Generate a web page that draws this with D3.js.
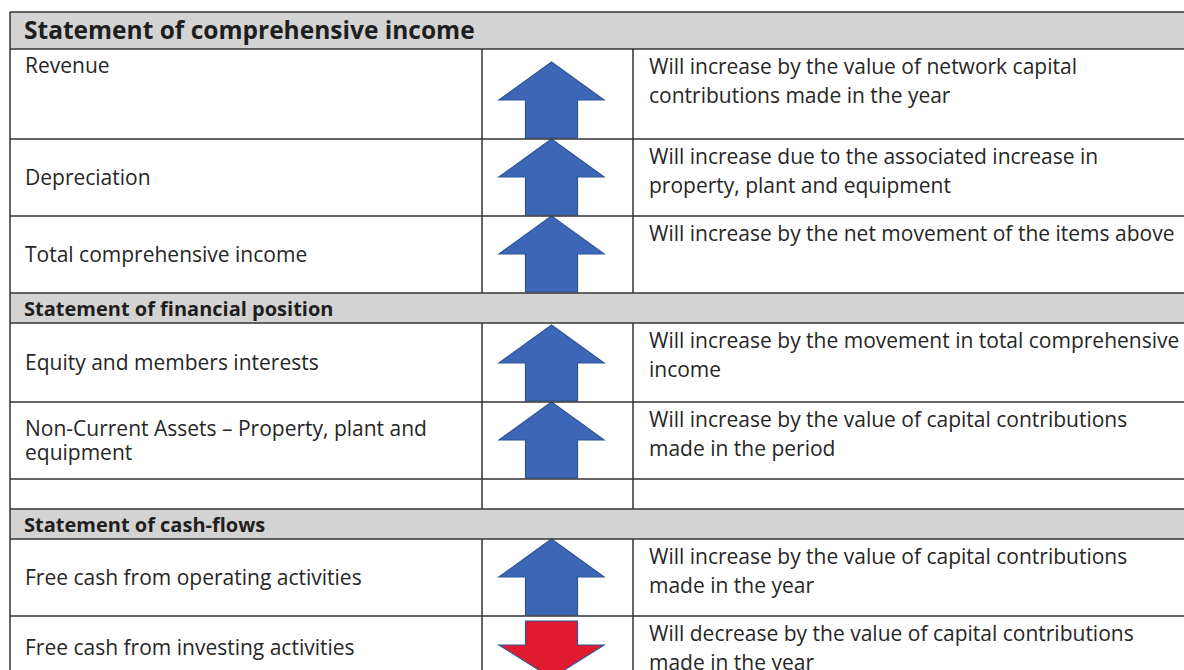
<!DOCTYPE html>
<html>
<head>
<meta charset="utf-8">
<script src="https://cdn.jsdelivr.net/npm/d3@7"></script>
<style>
  html, body { margin: 0; padding: 0; background: #fff; }
  svg { display: block; }
</style>
</head>
<body>
<div id="chart"></div>
<script>
// table content
const sectionTitles = [
  "Statement of comprehensive income",
  "Statement of financial position",
  "Statement of cash-flows"
];
const itemSection = [0, 0, 0, 1, 1, 1, 2, 2];
const itemLabels = [
  "Revenue",
  "Depreciation",
  "Total comprehensive income",
  "Equity and members interests",
  "Non-Current Assets \u2013 Property, plant and\nequipment",
  "",
  "Free cash from operating activities",
  "Free cash from investing activities"
];
const itemMovement = ["up", "up", "up", "up", "up", null, "up", "down"];
const itemNotes = [
  "Will increase by the value of network capital\ncontributions made in the year",
  "Will increase due to the associated increase in\nproperty, plant and equipment",
  "Will increase by the net movement of the items above",
  "Will increase by the movement in total comprehensive\nincome",
  "Will increase by the value of capital contributions\nmade in the period",
  "",
  "Will increase by the value of capital contributions\nmade in the year",
  "Will decrease by the value of capital contributions\nmade in the year"
];

// layout
const width = 1184, height = 670;
const top0 = 12;
const sectionHeights = [37, 30, 30];
const itemHeights = [90, 77, 77, 79, 77, 30, 77, 64];
const labelAlign = ["top", "middle", "middle", "middle", "middle", "middle", "middle", "middle"];

const rows = [];
sectionTitles.forEach((t, s) => {
  rows.push({kind: "section", s, text: t, h: sectionHeights[s]});
  itemLabels.forEach((l, i) => {
    if (itemSection[i] === s) {
      rows.push({kind: "item", i, label: l, note: itemNotes[i], move: itemMovement[i], h: itemHeights[i], align: labelAlign[i]});
    }
  });
});
const tops = [top0, ...d3.cumsum(rows, d => d.h).map(v => v + top0)];
rows.forEach((r, k) => { r.y0 = tops[k]; r.y1 = tops[k + 1]; });

const col = d3.scaleOrdinal()
  .domain(["label", "arrow", "note", "end"])
  .range([10, 482, 633, 1192]);
const fillColor = d3.scaleOrdinal().domain(["up", "down"]).range(["#3d67b6", "#e11a30"]);

const svg = d3.select("#chart").append("svg")
  .attr("width", width).attr("height", height);

const font = "'Open Sans', 'Noto Sans', sans-serif";
const ink = "#262626";
const lineColor = "#333";

// section backgrounds
const sec = rows.filter(r => r.kind === "section");
svg.selectAll("rect.sec").data(sec).enter().append("rect")
  .attr("class", "sec")
  .attr("x", col("label")).attr("width", col("end") - col("label"))
  .attr("y", d => d.y0).attr("height", d => d.y1 - d.y0)
  .attr("fill", "#d3d3d3");

svg.selectAll("text.sec").data(sec).enter().append("text")
  .attr("class", "sec")
  .attr("x", col("label") + 14)
  .attr("y", d => d.s === 0 ? d.y0 + 27 : d.y0 + 23)
  .attr("font-family", font)
  .attr("font-weight", 700)
  .attr("font-size", d => d.s === 0 ? 24.5 : 20)
  .attr("fill", "#1e1e1e")
  .text(d => d.text);

// arrows
const items = rows.filter(r => r.kind === "item");
function arrowPath(r) {
  const p = d3.path();
  const x0 = col("arrow") + 17, w = 105, sw = 52;
  const cx = x0 + w / 2;
  if (r.move === "up") {
    const yb = r.y1 - 1, yt = yb - 76, yw = yt + 38;
    p.moveTo(cx, yt);
    p.lineTo(x0 + w, yw);
    p.lineTo(cx + sw / 2, yw);
    p.lineTo(cx + sw / 2, yb);
    p.lineTo(cx - sw / 2, yb);
    p.lineTo(cx - sw / 2, yw);
    p.lineTo(x0, yw);
  } else {
    const yt = r.y0 + 5, yw = yt + 24, yb = yw + 33;
    p.moveTo(cx - sw / 2, yt);
    p.lineTo(cx + sw / 2, yt);
    p.lineTo(cx + sw / 2, yw);
    p.lineTo(x0 + w, yw);
    p.lineTo(cx, yb);
    p.lineTo(x0, yw);
    p.lineTo(cx - sw / 2, yw);
  }
  p.closePath();
  return p.toString();
}
svg.selectAll("path.arrow").data(items.filter(r => r.move)).enter().append("path")
  .attr("class", "arrow")
  .attr("d", arrowPath)
  .attr("fill", d => fillColor(d.move))
  .attr("stroke", "#2f5597")
  .attr("stroke-width", 1.2);

// labels
const lbl = svg.selectAll("text.label").data(items).enter().append("text")
  .attr("class", "label")
  .attr("font-family", font).attr("font-size", 21).attr("fill", ink);
lbl.each(function(r) {
  const lines = r.label ? r.label.split("\n") : [];
  const lh = 24;
  let base;
  if (r.align === "top") base = r.y0 + 24;
  else base = (r.y0 + r.y1) / 2 + 7 - (lines.length - 1) * lh / 2;
  d3.select(this).selectAll("tspan").data(lines).enter().append("tspan")
    .attr("x", col("label") + 15)
    .attr("y", (d, j) => base + j * lh)
    .text(d => d);
});

// notes
const nt = svg.selectAll("text.note").data(items).enter().append("text")
  .attr("class", "note")
  .attr("font-family", font).attr("font-size", 21).attr("fill", ink);
nt.each(function(r) {
  const lines = r.note ? r.note.split("\n") : [];
  d3.select(this).selectAll("tspan").data(lines).enter().append("tspan")
    .attr("x", col("note") + 16)
    .attr("y", (d, j) => r.y0 + 25 + j * 29)
    .text(d => d);
});

// grid lines
const g = svg.append("g").attr("stroke", lineColor).attr("stroke-width", 1.5);
g.selectAll("line.h").data(tops).enter().append("line")
  .attr("x1", col("label")).attr("x2", col("end"))
  .attr("y1", d => d).attr("y2", d => d);
g.append("line")
  .attr("x1", col("label")).attr("x2", col("label"))
  .attr("y1", top0).attr("y2", tops[tops.length - 1]);
g.selectAll("line.v").data(d3.cross(items, ["arrow", "note"])).enter().append("line")
  .attr("x1", d => col(d[1])).attr("x2", d => col(d[1]))
  .attr("y1", d => d[0].y0).attr("y2", d => d[0].y1);
</script>
</body>
</html>
